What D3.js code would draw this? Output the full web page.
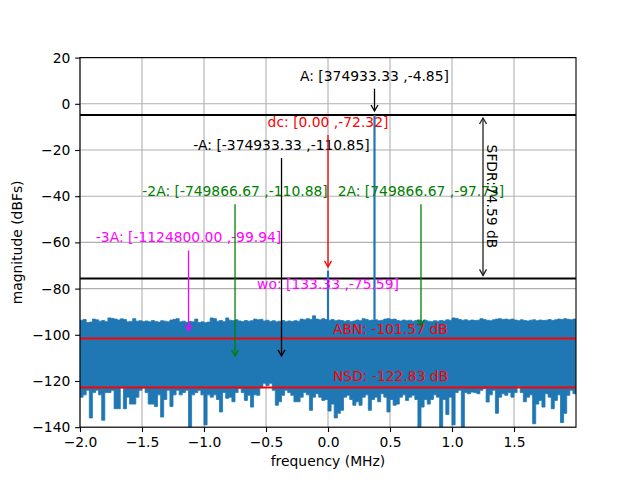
<!DOCTYPE html>
<html><head><meta charset="utf-8">
<script src="https://cdn.jsdelivr.net/npm/d3@7"></script>
<style>body{margin:0;background:#fff} text{font-family:"DejaVu Sans",sans-serif}</style>
</head><body><svg id="c" width="640" height="480"></svg>
<script>
// ---------------- data ----------------
const xTicks = [-2, -1.5, -1, -0.5, 0, 0.5, 1, 1.5];
const xTickLabels = ["\u22122.0","\u22121.5","\u22121.0","\u22120.5","0.0","0.5","1.0","1.5"];
const yTicks = [-140, -120, -100, -80, -60, -40, -20, 0, 20];
const yTickLabels = ["\u2212140","\u2212120","\u2212100","\u221280","\u221260","\u221240","\u221220","0","20"];

// noise floor envelope, one value per 0.025 MHz bin starting at -2 MHz
const noiseStart = -2.0, noiseStep = 0.025;
const noiseTop = [
-93.7,-93.4,-94.7,-94.5,-93.2,-93.5,-94.1,-93.8,-94.3,-92.7,
-92.9,-93.2,-93.6,-93.1,-93.4,-94.4,-94.2,-93.0,-94.1,-93.9,
-94.3,-94.0,-94.4,-93.8,-94.2,-94.5,-93.9,-94.1,-94.4,-93.6,
-93.3,-93.0,-94.4,-94.1,-94.6,-94.2,-94.4,-93.2,-94.7,-94.4,
-94.8,-94.5,-92.7,-93.0,-94.1,-93.8,-94.3,-92.7,-93.7,-93.9,
-93.5,-94.0,-94.3,-93.8,-94.1,-93.9,-93.2,-93.5,-93.3,-94.0,
-93.7,-94.2,-93.9,-94.4,-94.1,-93.8,-94.3,-94.0,-94.2,-93.9,
-94.1,-93.2,-93.5,-93.0,-93.4,-91.8,-93.2,-93.5,-93.0,-93.4,
-93.7,-93.4,-93.9,-93.6,-93.8,-94.1,-93.8,-94.3,-94.0,-93.6,
-93.9,-93.0,-93.4,-93.8,-93.6,-93.5,-93.9,-93.7,-93.2,-93.0,
-93.4,-93.2,-93.8,-94.0,-93.6,-93.9,-93.7,-94.1,-93.8,-93.6,
-94.0,-93.7,-94.1,-94.3,-93.9,-94.1,-93.8,-94.0,-93.5,-93.7,
-92.7,-92.9,-93.4,-93.7,-93.5,-93.9,-93.6,-93.8,-93.7,-93.0,
-93.4,-93.7,-93.9,-93.5,-93.2,-93.0,-93.4,-93.2,-93.5,-93.2,
-93.6,-93.9,-93.5,-93.8,-94.0,-93.7,-93.5,-93.9,-93.6,-93.8,
-93.7,-93.4,-93.8,-93.5,-93.2,-93.4,-93.0,-93.3,-93.5,-93.2
];
const noiseBottom = [
-127,-126,-124,-136,-125,-124,-126,-137,-125,-125,
-124,-132,-132,-123,-132,-127,-130,-130,-127,-124,
-123,-125,-130,-130,-131,-126,-135.6,-128,-124,-131,
-126,-124,-126,-125,-124,-140,-126,-125,-124,-126,
-139,-126,-127,-126,-128,-133.4,-125,-127.5,-127,-129,
-125,-123.3,-125,-128.4,-126.2,-131.3,-126,-126.2,-123,-121,
-122,-121,-124,-130.5,-129,-126.2,-124,-125,-126.2,-129,
-129,-127,-125,-126,-132.7,-127,-125.5,-127,-128.4,-128,
-133,-130,-136,-134,-132.7,-127,-126.2,-128,-130.5,-129,
-130.5,-127,-126,-132.7,-128,-127,-129,-125.5,-127,-133.4,
-128,-130.5,-130,-127,-126,-128.4,-127,-126.2,-128,-140,
-131.3,-128,-130,-128,-126,-127,-140,-128,-134.5,-127,
-139,-125,-124,-140,-125,-125.5,-124.8,-125,-125.5,-124,
-123.3,-129.1,-126,-124,-134,-127,-125.5,-126.2,-125,-127,
-125,-122.5,-125,-129,-127,-126,-138.5,-130,-128.4,-131.3,
-125.5,-127,-132,-128.4,-126,-138,-134,-126.2,-124,-125.5
];
const xMax = 1.99987;

// spectral peaks (MHz, dBFs)
const peakFreq = [0.0, 0.37493333];
const peakLevel = [-72.32, -4.85];

// annotations
const annLabels = ["A: [374933.33 ,-4.85]", "dc: [0.00 ,-72.32]", "-A: [-374933.33 ,-110.85]",
  "-2A: [-749866.67 ,-110.88]", "2A: [749866.67 ,-97.73]", "-3A: [-1124800.00 ,-99.94]", "wo: [133.33 ,-75.59]"];
const annFreq = [0.37493333, 0.0, -0.37493333, -0.74986667, 0.74986667, -1.1248, 0.00013333];
const annLevel = [-4.85, -72.32, -110.85, -110.88, -97.73, -99.94, -75.59];
const annTextLevel = [10, -10, -20, -40, -40, -60, -80];
const annColor = ["black", "red", "black", "green", "green", "magenta", "magenta"];

// reference levels
const carrierLevel = -4.85, spurLevel = -75.59;
const sfdrFreq = 1.25, sfdrLabel = "SFDR:74.59 dB";
const abnLevel = -101.57, nsdLevel = -122.83;
const abnLabel = "ABN: -101.57 dB", nsdLabel = "NSD: -122.83 dB";
const floorLabelFreq = 0.04;

// ---------------- drawing ----------------
const svg = d3.select("#c");
const L = 80, R = 576, T = 57.6, B = 427.2;
const FS = 13.89;
const x = d3.scaleLinear().domain([-2, xMax]).range([L, R]);
const y = d3.scaleLinear().domain([-140, 20]).range([B, T]);

svg.append("rect").attr("width", 640).attr("height", 480).attr("fill", "#fff");
svg.append("defs").append("clipPath").attr("id", "clip")
  .append("rect").attr("x", L).attr("y", T).attr("width", R - L).attr("height", B - T);

// grid
const grid = svg.append("g");
grid.selectAll(".gx").data(xTicks).join("line")
  .attr("x1", d => x(d)).attr("x2", d => x(d)).attr("y1", T).attr("y2", B)
  .attr("stroke", "#b0b0b0").attr("stroke-width", 1.1);
grid.selectAll(".gy").data(yTicks).join("line")
  .attr("y1", d => y(d)).attr("y2", d => y(d)).attr("x1", L).attr("x2", R)
  .attr("stroke", "#b0b0b0").attr("stroke-width", 1.1);

const plot = svg.append("g").attr("clip-path", "url(#clip)");

// noise band
const band = noiseTop.map((v, i) => ({ f: noiseStart + i * noiseStep, hi: v, lo: noiseBottom[i] }));
band.push({ f: xMax, hi: noiseTop[noiseTop.length - 1], lo: noiseBottom[noiseBottom.length - 1] });
const area = d3.area().x(d => x(d.f)).y0(d => y(d.lo)).y1(d => y(d.hi)).curve(d3.curveStepAfter);
plot.append("path").datum(band).attr("d", area)
  .attr("fill", "#1f77b4").attr("stroke", "#1f77b4").attr("stroke-width", 0.8);

// reference lines
plot.selectAll(".rl").data([abnLevel, nsdLevel]).join("line")
  .attr("x1", L).attr("x2", R).attr("y1", d => y(d)).attr("y2", d => y(d))
  .attr("stroke", "#ff0000").attr("stroke-width", 2);
plot.selectAll(".bl").data([carrierLevel, spurLevel]).join("line")
  .attr("x1", L).attr("x2", R).attr("y1", d => y(d)).attr("y2", d => y(d))
  .attr("stroke", "#000").attr("stroke-width", 2);

// annotation texts
const ann = annLabels.map((t, i) => ({ t, f: annFreq[i], lv: annLevel[i], tl: annTextLevel[i], c: annColor[i] }));
svg.selectAll(".at").data(ann).join("text")
  .attr("x", d => x(d.f)).attr("y", d => y(d.tl)).attr("text-anchor", "middle")
  .attr("font-size", FS).attr("fill", d => d.c).text(d => d.t);

// floor labels
svg.selectAll(".fl").data([[abnLabel, abnLevel, 1.8], [nsdLabel, nsdLevel, 2.7]]).join("text")
  .attr("x", x(floorLabelFreq)).attr("y", d => y(d[1] + d[2]))
  .attr("font-size", FS).attr("fill", "#ff0000").text(d => d[0]);

// arrows
function head(g, xp, yp, dir, color) {
  g.append("path").attr("d", `M${xp - 3.5},${yp - 6 * dir}L${xp},${yp}L${xp + 3.5},${yp - 6 * dir}`)
    .attr("fill", "none").attr("stroke", color).attr("stroke-width", 1.3);
}
const arrows = svg.append("g");
ann.forEach(d => {
  const tail = y(d.tl) + 8, tip = y(d.lv) - 4;
  if (tip - tail < 10) return;
  arrows.append("line").attr("x1", x(d.f)).attr("x2", x(d.f)).attr("y1", tail).attr("y2", tip)
    .attr("stroke", d.c).attr("stroke-width", 1.3);
  head(arrows, x(d.f), tip, 1, d.c);
});
// SFDR
const sTop = y(carrierLevel) + 3, sBot = y(spurLevel) - 3;
arrows.append("line").attr("x1", x(sfdrFreq)).attr("x2", x(sfdrFreq)).attr("y1", sTop).attr("y2", sBot)
  .attr("stroke", "#222").attr("stroke-width", 1.3);
head(arrows, x(sfdrFreq), sTop, -1, "#222");
head(arrows, x(sfdrFreq), sBot, 1, "#222");
svg.append("text").attr("transform", `translate(${x(sfdrFreq) + 4},${y((carrierLevel + spurLevel) / 2 + 0.1)}) rotate(90)`)
  .attr("text-anchor", "middle").attr("font-size", FS).attr("fill", "#000").text(sfdrLabel);

// spikes
plot.selectAll(".sp").data(peakFreq.map((f, i) => ({ f, v: peakLevel[i] }))).join("line")
  .attr("x1", d => x(d.f)).attr("x2", d => x(d.f))
  .attr("y1", d => y(noiseTop[Math.round((d.f - noiseStart) / noiseStep)])).attr("y2", d => y(d.v))
  .attr("stroke", "#1f77b4").attr("stroke-width", 2.2);

// spines
svg.append("rect").attr("x", L).attr("y", T).attr("width", R - L).attr("height", B - T)
  .attr("fill", "none").attr("stroke", "#000").attr("stroke-width", 1.1);

// axes
const ax = svg.append("g").attr("transform", `translate(0,${B})`)
  .call(d3.axisBottom(x).tickValues(xTicks).tickFormat((d, i) => xTickLabels[i]).tickSize(4.86).tickPadding(4.86).tickSizeOuter(0));
const ay = svg.append("g").attr("transform", `translate(${L},0)`)
  .call(d3.axisLeft(y).tickValues(yTicks).tickFormat((d, i) => yTickLabels[i]).tickSize(4.86).tickPadding(4.86).tickSizeOuter(0));
[ax, ay].forEach(g => {
  g.select(".domain").remove();
  g.selectAll("line").attr("stroke", "#000").attr("stroke-width", 1.1);
  g.selectAll("text").attr("font-size", FS).attr("font-family", "DejaVu Sans").attr("fill", "#000");
});

svg.append("text").attr("x", (L + R) / 2).attr("y", 466).attr("text-anchor", "middle")
  .attr("font-size", FS).text("frequency (MHz)");
svg.append("text").attr("transform", `translate(22,${(T + B) / 2}) rotate(-90)`).attr("text-anchor", "middle")
  .attr("font-size", FS).text("magnitude (dBFs)");
</script></body></html>
